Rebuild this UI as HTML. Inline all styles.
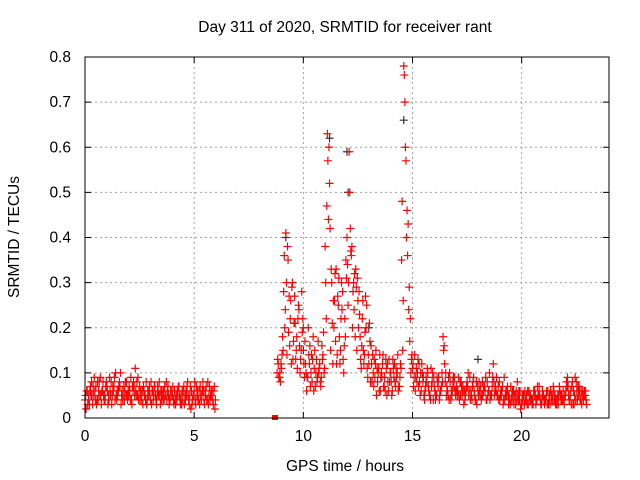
<!DOCTYPE html>
<html><head><meta charset="utf-8"><style>
body{margin:0;background:#fff}
svg{display:block;font-family:"Liberation Sans",sans-serif}
</style></head><body>
<svg id="chart" width="640" height="480">
<rect width="640" height="480" fill="#fff"/>
<text x="345" y="32" text-anchor="middle" font-size="15.5" fill="#000">Day 311 of 2020, SRMTID for receiver rant</text>
<text x="345" y="471" text-anchor="middle" font-size="15.5" fill="#000">GPS time / hours</text>
<text transform="translate(19,237) rotate(-90)" text-anchor="middle" font-size="15.5" fill="#000">SRMTID / TECUs</text>
<g id="grid"></g>
<g id="marks"></g>
<rect x="85" y="57" width="524" height="361" fill="none" stroke="#000" stroke-width="1"/>
<g id="axes"></g>
</svg>
<script>
const xTicks=[0,5,10,15,20];
const yTicks=[0,0.1,0.2,0.3,0.4,0.5,0.6,0.7,0.8];
const yTickLabels=["0","0.1","0.2","0.3","0.4","0.5","0.6","0.7","0.8"];
const startA=0.0, stepA=0.1;
const valsA1=[0.04,0.06,0.03,0.08,0.05,0.07,0.04,0.09,0.06,0.05,0.07,0.04,0.08,0.06,0.10,0.05,0.07,0.06,0.04,0.08,0.05,0.09,0.06,0.11,0.05,0.07,0.04,0.06,0.08,0.05,0.04,0.06,0.07,0.05,0.08,0.04,0.06,0.05,0.07,0.04,0.05,0.06,0.04,0.07,0.05,0.06,0.04,0.08,0.05,0.03,0.06,0.07,0.04,0.05,0.08,0.06,0.04,0.07,0.05,0.06];
const valsA2=[0.02,0.05,0.07,0.03,0.06,0.04,0.08,0.03,0.05,0.07,0.03,0.06,0.05,0.09,0.04,0.07,0.03,0.05,0.08,0.04,0.06,0.03,0.07,0.05,0.04,0.06,0.03,0.05,0.04,0.07,0.03,0.05,0.04,0.06,0.03,0.05,0.07,0.04,0.03,0.06,0.04,0.03,0.05,0.04,0.06,0.03,0.05,0.04,0.02,0.05,0.04,0.06,0.03,0.05,0.04,0.07,0.03,0.05,0.04,0.02];
const valsA3=[0.05,0.03,0.06,0.05,0.09,0.03,0.06,0.05,0.08,0.04,0.06,0.09,0.03,0.07,0.05,0.06,0.10,0.04,0.06,0.05,0.07,0.04,0.08,0.06,0.09,0.04,0.06,0.05,0.03,0.06,0.08,0.04,0.05,0.07,0.05,0.06,0.04,0.08,0.05,0.06,0.07,0.04,0.06,0.05,0.03,0.07,0.06,0.05,0.07,0.04,0.08,0.05,0.06,0.04,0.06,0.05,0.08,0.04,0.06,0.07];
const valsA4=[0.06,0.04,0.05,0.07,0.04,0.08,0.05,0.06,0.04,0.08,0.05,0.05,0.07,0.04,0.06,0.08,0.05,0.07,0.05,0.06,0.04,0.07,0.05,0.08,0.06,0.05,0.07,0.04,0.06,0.05,0.06,0.07,0.03,0.05,0.06,0.04,0.05,0.06,0.04,0.05,0.03,0.05,0.07,0.03,0.04,0.05,0.07,0.03,0.06,0.05,0.03,0.04,0.07,0.06,0.03,0.04,0.05,0.06,0.03,0.04];
const startB=8.8, stepB=0.1;
const valsB1=[0.10,0.09,0.11, 0.28,0.41,0.35,0.22,0.30, 0.27,0.18,0.24,0.15,0.20, 0.12,0.09,0.16,0.08,0.11,0.13,0.10,0.07,0.14, 0.38,0.63,0.52,0.30, 0.20,0.33,0.25,0.15,0.28,0.22, 0.40,0.59,0.36,0.30,0.33,0.26, 0.18,0.22,0.14,0.25,0.12, 0.16,0.10,0.12,0.08,0.14,0.09,0.07,0.11,0.06,0.10,0.13,0.08,0.10,0.07, 0.35,0.78,0.57,0.43,0.22, 0.11,0.14,0.08,0.12,0.06,0.09,0.07,0.10,0.05,0.08, 0.07,0.05,0.09,0.06,0.18,0.08,0.06,0.10,0.05,0.07, 0.06,0.09,0.05,0.07,0.04,0.08,0.06,0.05,0.09,0.04,0.06,0.05,0.08,0.07,0.04,0.06,0.05,0.12,0.07,0.05, 0.04,0.06,0.09,0.05,0.03,0.07,0.04,0.05,0.08,0.04,0.03,0.05,0.04,0.03,0.05,0.04,0.06,0.04,0.07,0.03, 0.05,0.04,0.06,0.03,0.05,0.04,0.03,0.05,0.04,0.06,0.05,0.09,0.04,0.07,0.03,0.08,0.05,0.04,0.06,0.05];
const valsB2=[0.12,0.08,0.18, 0.20,0.14,0.27,0.12,0.17, 0.13,0.22,0.10,0.19,0.09, 0.06,0.14,0.10,0.18,0.07,0.09,0.12,0.16,0.10, 0.22,0.44,0.15,0.12, 0.32,0.14,0.18,0.30,0.10,0.35, 0.25,0.42,0.20,0.32,0.15,0.28, 0.11,0.15,0.27,0.09,0.17, 0.08,0.13,0.05,0.11,0.09,0.14,0.06,0.12,0.08,0.05,0.09,0.11,0.06,0.12, 0.15,0.70,0.46,0.29,0.13, 0.07,0.09,0.13,0.05,0.10,0.04,0.08,0.06,0.11,0.04, 0.04,0.08,0.05,0.10,0.16,0.05,0.09,0.04,0.08,0.06, 0.05,0.04,0.07,0.03,0.06,0.10,0.04,0.07,0.05,0.03,0.08,0.04,0.06,0.09,0.05,0.04,0.07,0.05,0.09,0.04, 0.06,0.03,0.05,0.07,0.04,0.05,0.03,0.06,0.04,0.02,0.04,0.06,0.03,0.05,0.04,0.06,0.03,0.05,0.04,0.06, 0.03,0.06,0.04,0.05,0.07,0.03,0.05,0.06,0.04,0.03,0.08,0.05,0.06,0.03,0.09,0.04,0.06,0.03,0.05,0.04];
const valsB3=[0.13,0.10,0.14, 0.36,0.30,0.19,0.26,0.13, 0.21,0.11,0.16,0.28,0.12, 0.10,0.20,0.07,0.13,0.15,0.08,0.11,0.09,0.19, 0.30,0.57,0.42,0.21, 0.26,0.12,0.31,0.22,0.13,0.18, 0.34,0.50,0.38,0.24,0.29,0.20, 0.13,0.26,0.19,0.11,0.21, 0.12,0.07,0.15,0.10,0.06,0.12,0.09,0.05,0.13,0.08,0.11,0.07,0.14,0.09, 0.48,0.76,0.40,0.24,0.10, 0.12,0.06,0.10,0.08,0.12,0.05,0.09,0.07,0.04,0.10, 0.06,0.09,0.04,0.07,0.15,0.10,0.05,0.08,0.06,0.09, 0.07,0.05,0.08,0.06,0.05,0.07,0.09,0.04,0.06,0.08,0.05,0.07,0.05,0.06,0.08,0.10,0.05,0.08,0.06,0.07, 0.05,0.07,0.04,0.06,0.05,0.04,0.06,0.03,0.05,0.06,0.05,0.03,0.05,0.06,0.04,0.03,0.05,0.07,0.05,0.04, 0.04,0.05,0.03,0.06,0.04,0.05,0.04,0.07,0.05,0.04,0.06,0.07,0.05,0.08,0.05,0.06,0.07,0.06,0.04,0.06];
const valsB4=[0.09,0.12,0.15, 0.24,0.38,0.16,0.29,0.21, 0.15,0.25,0.13,0.22,0.17, 0.09,0.12,0.14,0.06,0.10,0.17,0.08,0.13,0.11, 0.47,0.60,0.33,0.26, 0.17,0.27,0.12,0.24,0.16,0.31, 0.30,0.37,0.28,0.18,0.31,0.23, 0.16,0.12,0.20,0.14,0.08, 0.14,0.09,0.11,0.06,0.10,0.07,0.13,0.08,0.10,0.06,0.12,0.09,0.07,0.11, 0.26,0.60,0.36,0.17,0.14, 0.09,0.11,0.07,0.10,0.08,0.06,0.11,0.05,0.07,0.09, 0.05,0.07,0.06,0.08,0.12,0.07,0.04,0.06,0.09,0.05, 0.06,0.08,0.05,0.06,0.07,0.05,0.06,0.08,0.04,0.07,0.06,0.05,0.07,0.04,0.06,0.05,0.09,0.06,0.05,0.08, 0.05,0.04,0.06,0.05,0.03,0.06,0.05,0.04,0.06,0.03,0.05,0.04,0.06,0.04,0.03,0.05,0.04,0.05,0.03,0.05, 0.04,0.03,0.05,0.04,0.06,0.04,0.03,0.05,0.04,0.05,0.07,0.04,0.03,0.06,0.04,0.07,0.04,0.05,0.06,0.03];
const grayTimes=[9.2,11.2,12.0,12.05,14.6,10.0,13.0,18.0];
const grayVals=[0.40,0.62,0.59,0.50,0.66,0.15,0.20,0.13];
const zeroTimes=[8.7];
const zeroVals=[0];

const X0=85,X1=609,Y0=418,Y1=57,XMAX=24,YMAX=0.8;
const sx=t=>X0+(X1-X0)*t/XMAX;
const sy=v=>Y0-(Y0-Y1)*v/YMAX;
const NS="http://www.w3.org/2000/svg";
const grid=document.getElementById('grid'),axes=document.getElementById('axes'),marks=document.getElementById('marks');
function line(p,x1,y1,x2,y2,st,dash){const l=document.createElementNS(NS,'line');l.setAttribute('x1',x1);l.setAttribute('y1',y1);l.setAttribute('x2',x2);l.setAttribute('y2',y2);l.setAttribute('stroke',st);if(dash)l.setAttribute('stroke-dasharray',dash);p.appendChild(l);return l;}
function txt(x,y,s,anchor){const t=document.createElementNS(NS,'text');t.setAttribute('x',x);t.setAttribute('y',y);t.setAttribute('text-anchor',anchor);t.setAttribute('font-size','15.5');t.textContent=s;axes.appendChild(t);return t;}
xTicks.forEach(v=>{const x=sx(v);
  const g=line(grid,x,Y1,x,Y0,'#a0a0a0','2,3');
  
  
  line(axes,x,Y0,x,Y0-6,'#000');line(axes,x,Y1,x,Y1+6,'#000');
  const t=txt(x,Y0+23,String(v),'middle');
  
  
});
yTicks.forEach((v,i)=>{const y=sy(v);
  const g=line(grid,X0,y,X1,y,'#a0a0a0','2,3');
  
  
  line(axes,X0,y,X0+6,y,'#000');line(axes,X1,y,X1-6,y,'#000');
  const t=txt(X0-14,y+5,yTickLabels[i],'end');
  
  
});
function plus(t,v,col){const x=sx(t),y=sy(v);const p=document.createElementNS(NS,'path');
  p.setAttribute('d',`M${x-4},${y}H${x+4}M${x},${y-4}V${y+4}`);p.setAttribute('stroke',col);p.setAttribute('stroke-width','1.2');p.setAttribute('fill','none');
  
  
  marks.appendChild(p);}
grayTimes.forEach((t,i)=>plus(t,grayVals[i],'#333'));
valsA1.forEach((v,i)=>plus(startA+i*stepA,v,'#f00'));
valsA2.forEach((v,i)=>plus(startA+0.05+i*stepA,v,'#f00'));
valsA3.forEach((v,i)=>plus(startA+0.025+i*stepA,v,'#f00'));
valsA4.forEach((v,i)=>plus(startA+0.075+i*stepA,v,'#f00'));
valsB1.forEach((v,i)=>plus(startB+i*stepB,v,'#f00'));
valsB2.forEach((v,i)=>plus(startB+0.05+i*stepB,v,'#f00'));
valsB3.forEach((v,i)=>plus(startB+0.025+i*stepB,v,'#f00'));
valsB4.forEach((v,i)=>plus(startB+0.075+i*stepB,v,'#f00'));
zeroTimes.forEach((t,i)=>{const r=document.createElementNS(NS,'rect');r.setAttribute('x',sx(t)-3);r.setAttribute('y',sy(zeroVals[i])-3);r.setAttribute('width',6);r.setAttribute('height',5);r.setAttribute('fill','#f00');
  
  
  marks.appendChild(r);});
</script>
</body></html>
